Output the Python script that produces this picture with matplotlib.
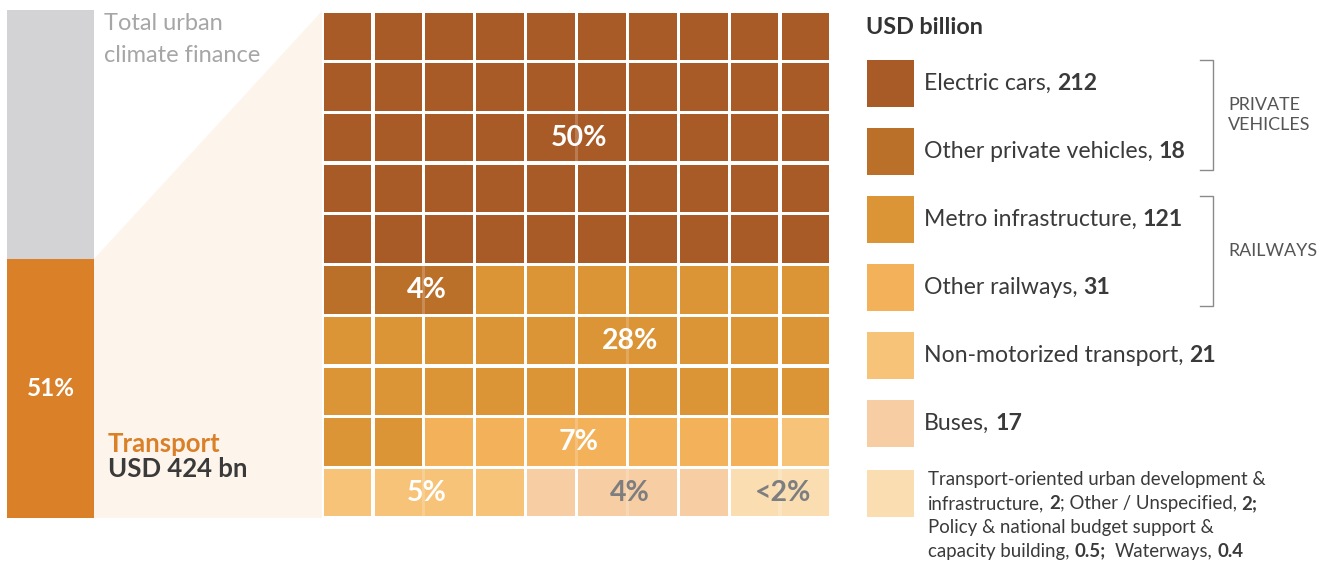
import matplotlib
matplotlib.use("Agg")
import matplotlib.pyplot as plt
from matplotlib.patches import Rectangle, Polygon

plt.rcParams['font.family'] = ['Lato', 'DejaVu Sans']

# ---- data -------------------------------------------------------------
transport_share = 51          # % of total urban climate finance
transport_total = 424         # USD bn

categories = ["Electric cars", "Other private vehicles", "Metro infrastructure",
              "Other railways", "Non-motorized transport", "Buses", "Other"]
values_bn = [212, 18, 121, 31, 21, 17, 4.9]
waffle_cells = [50, 3, 29, 7, 5, 4, 2]
pct_labels = ["50%", "4%", "28%", "7%", "5%", "4%", "<2%"]
colors = ["#A85A27", "#BB7029", "#DB9436", "#F3B159", "#F7C378", "#F7CDA3", "#FADEB2"]

legend_labels = [("Electric cars, ", "212"),
                 ("Other private vehicles, ", "18"),
                 ("Metro infrastructure, ", "121"),
                 ("Other railways, ", "31"),
                 ("Non-motorized transport, ", "21"),
                 ("Buses, ", "17")]
other_lines = [[("Transport-oriented urban development &", False)],
               [("infrastructure, ", False), ("2", True), ("; Other / Unspecified, ", False), ("2;", True)],
               [("Policy & national budget support &", False)],
               [("capacity building, ", False), ("0.5;", True), ("  Waterways, ", False), ("0.4", True)]]
groups = [("PRIVATE\nVEHICLES", 0, 1), ("RAILWAYS", 2, 3)]

# ---- layout -----------------------------------------------------------
W, H = 1327, 566
fig = plt.figure(figsize=(W / 100, H / 100), dpi=100)
fig.patch.set_facecolor("white")

def frac(x0, y0, x1, y1):
    return [x0 / W, 1 - y1 / H, (x1 - x0) / W, (y1 - y0) / H]

ax_bg = fig.add_axes([0, 0, 1, 1])
ax_bg.set_xlim(0, W)
ax_bg.set_ylim(H, 0)
ax_bg.axis("off")

ax_bar = fig.add_axes(frac(7, 10, 94, 518))
ax_bar.bar(0, transport_share, width=1, color="#D98029", linewidth=0)
ax_bar.bar(0, 100 - transport_share, bottom=transport_share, width=1, color="#D3D3D5", linewidth=0)
ax_bar.set_xlim(-0.5, 0.5)
ax_bar.set_ylim(0, 100)
ax_bar.axis("off")
ax_bar.text(0, transport_share / 2, f"{transport_share}%", ha="center", va="center",
            color="white", fontsize=17.5, fontweight="bold")

ax_w = fig.add_axes(frac(322, 11, 831, 518))
ax_w.set_xlim(0, 10)
ax_w.set_ylim(10, 0)
ax_w.axis("off")

# wedge linking the transport bar segment to the waffle grid
inv = ax_bg.transData.inverted()
p_bar_top = inv.transform(ax_bar.transData.transform((0.5, transport_share)))
p_bar_bot = inv.transform(ax_bar.transData.transform((0.5, 0)))
p_grid_top = inv.transform(ax_w.transAxes.transform((0, 1)))
p_grid_bot = inv.transform(ax_w.transAxes.transform((0, 0)))
ax_bg.add_patch(Polygon([p_bar_top, p_grid_top, p_grid_bot, p_bar_bot],
                        closed=True, facecolor="#FDF5EB", edgecolor="none", zorder=0))

ax_bg.text(104, 23, "Total urban", ha="left", va="center", color="#A6A6A6", fontsize=17)
ax_bg.text(104, 56, "climate finance", ha="left", va="center", color="#A6A6A6", fontsize=17)
ax_bg.text(108, 444, "Transport", ha="left", va="center", color="#D98029",
           fontsize=18.5, fontweight="bold")
ax_bg.text(108, 469, f"USD {transport_total} bn", ha="left", va="center", color="#3A3A3A",
           fontsize=18.5, fontweight="bold")

# ---- waffle grid --------------------------------------------------------
gap = 0.065
cell_colors = []
for n, c in zip(waffle_cells, colors):
    cell_colors += [c] * n
for i, c in enumerate(cell_colors):
    r, col = divmod(i, 10)
    ax_w.add_patch(Rectangle((col + gap / 2, r + gap / 2), 1 - gap, 1 - gap,
                             facecolor=c, edgecolor="none"))

# cells whose shared edge carries each percentage label (row, left column)
label_cells = [(2, 4), (5, 1), (6, 5), (8, 4), (9, 1), (9, 5), (9, 8)]
label_colors = ["white", "white", "white", "white", "white", "#7E7E80", "#7E7E80"]
for (r, col), txt, tc in zip(label_cells, pct_labels, label_colors):
    c = cell_colors[r * 10 + col]
    ax_w.add_patch(Rectangle((col + 1 - gap / 2, r + gap / 2), gap, 1 - gap,
                             facecolor=c, edgecolor="none", alpha=0.8))
    ax_w.text(col + 1.05, r + 0.5, txt, ha="center", va="center", color=tc,
              fontsize=20.5, fontweight="bold")

# ---- legend -------------------------------------------------------------
renderer = fig.canvas.get_renderer()

def space_w(size):
    t1 = ax_bg.text(0, 0, "x x", fontsize=size)
    t2 = ax_bg.text(0, 0, "xx", fontsize=size)
    w = t1.get_window_extent(renderer=renderer).width - t2.get_window_extent(renderer=renderer).width
    t1.remove()
    t2.remove()
    return w

def draw_segments(x, y, segs, size, color):
    sp = space_w(size)
    for txt, bold in segs:
        lead = len(txt) - len(txt.lstrip(" "))
        trail = len(txt) - len(txt.rstrip(" "))
        core = txt.strip(" ")
        x += lead * sp
        t = ax_bg.text(x, y, core, ha="left", va="center", color=color, fontsize=size,
                       fontweight="bold" if bold else "normal")
        bb = t.get_window_extent(renderer=renderer)
        x = inv.transform((bb.x1, bb.y0))[0] + trail * sp

ax_bg.text(866, 27, "USD billion", ha="left", va="center", color="#333333",
           fontsize=16.8, fontweight="bold")

sq_x, sq_size, top0, step = 867, 47, 60, 68
for k, c in enumerate(colors):
    top = top0 + step * k + (2 if k == 6 else 0)
    ax_bg.add_patch(Rectangle((sq_x, top), sq_size, sq_size, facecolor=c, edgecolor="none"))
    if k < len(legend_labels):
        name, val = legend_labels[k]
        draw_segments(924, top + sq_size / 2, [(name, False), (val, True)], 16.6, "#3A3A3A")

for j, segs in enumerate(other_lines):
    draw_segments(928, 480 + 23.7 * j, segs, 13.4, "#3A3A3A")

for label, a, b in groups:
    y0 = top0 + step * a
    y1 = top0 + step * b + sq_size - 5
    ax_bg.plot([1200, 1213, 1213, 1200], [y0, y0, y1, y1], color="#8A8A8A", lw=1.0,
               solid_joinstyle="miter")
    ax_bg.text(1228, (y0 + y1) / 2, label, ha="left", va="center", color="#555555",
               fontsize=12.9, linespacing=1.3)

fig.savefig("out.png", dpi=100, facecolor="white")
